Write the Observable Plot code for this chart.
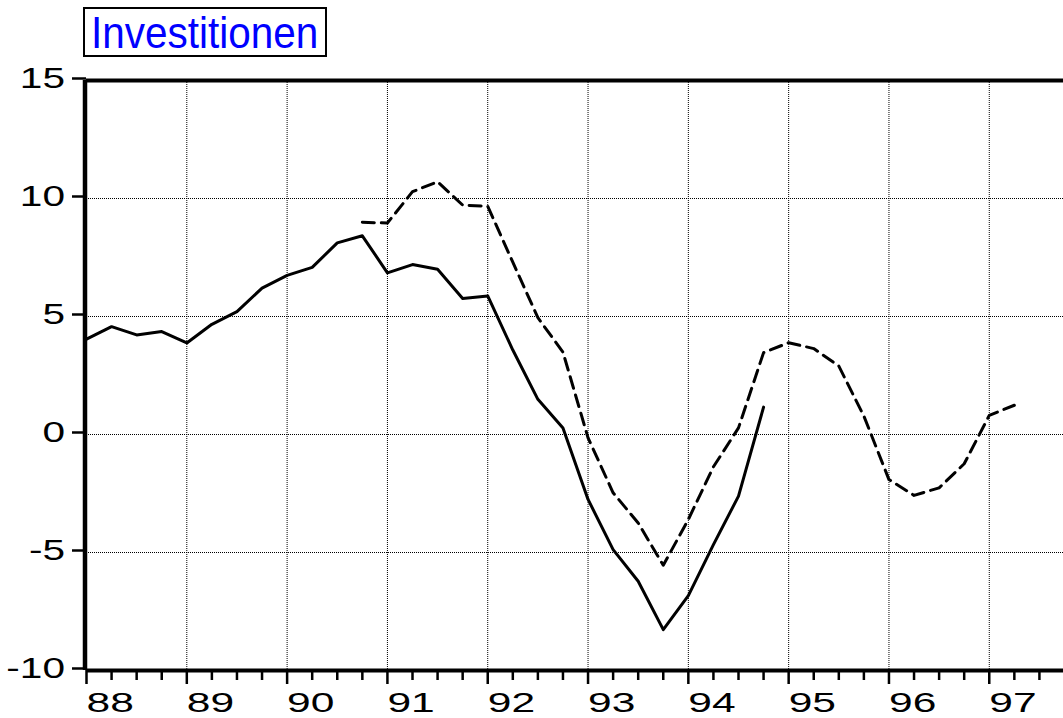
<!DOCTYPE html>
<html>
<head>
<meta charset="utf-8">
<script src="https://cdn.jsdelivr.net/npm/d3@7"></script>
<script src="https://cdn.jsdelivr.net/npm/@observablehq/plot@0.6"></script>
<style>
html, body { margin: 0; padding: 0; background: #fff; overflow: hidden; }
#title { position: relative; height: 60px; width: 1063px; }
#title .box { position: absolute; left: 83px; top: 7px; width: 244px; height: 50px; box-sizing: border-box; border: 2px solid #000; background: #fff; }
#title span { position: absolute; left: 5.5px; top: 2px; font-family: "Liberation Sans", Arial, sans-serif; font-size: 44px; line-height: 1; color: #0000ff; white-space: nowrap; transform: scaleX(0.92); transform-origin: 0 0; }
</style>
</head>
<body>
<div id="title"><div class="box"><span>Investitionen</span></div></div>
<div id="chart"></div>
<script>
// Quarterly dates (year + fraction), solid series
const solidQuarters = [88, 88.25, 88.5, 88.75, 89, 89.25, 89.5, 89.75, 90, 90.25, 90.5, 90.75,
  91, 91.25, 91.5, 91.75, 92, 92.25, 92.5, 92.75, 93, 93.25, 93.5, 93.75, 94, 94.25, 94.5, 94.75];
const solidValues = [4.04, 4.57, 4.22, 4.36, 3.88, 4.67, 5.21, 6.2, 6.74, 7.08, 8.12, 8.42,
  6.85, 7.2, 7.0, 5.76, 5.87, 3.58, 1.49, 0.28, -2.75, -4.88, -6.22, -8.27, -6.83, -4.67, -2.61, 1.16];

// Dashed series
const dashedQuarters = [90.75, 91, 91.25, 91.5, 91.75, 92, 92.25, 92.5, 92.75, 93, 93.25, 93.5, 93.75,
  94, 94.25, 94.5, 94.75, 95, 95.25, 95.5, 95.75, 96, 96.25, 96.5, 96.75, 97, 97.25];
const dashedValues = [8.99, 8.96, 10.29, 10.71, 9.72, 9.67, 7.3, 4.95, 3.49, -0.14, -2.47, -3.75, -5.54,
  -3.6, -1.37, 0.28, 3.47, 3.89, 3.64, 2.9, 0.78, -1.91, -2.58, -2.26, -1.24, 0.81, 1.24];

// Axis ticks
const yTicks = [-10, -5, 0, 5, 10, 15];
const yGrid = [-5, 0, 5, 10];
const yearTicks = [88, 89, 90, 91, 92, 93, 94, 95, 96, 97];
const gridYears = [89, 90, 91, 92, 93, 94, 95, 96, 97];
const minorQuarterTicks = [88.25, 88.5, 88.75, 89.25, 89.5, 89.75, 90.25, 90.5, 90.75,
  91.25, 91.5, 91.75, 92.25, 92.5, 92.75, 93.25, 93.5, 93.75, 94.25, 94.5, 94.75,
  95.25, 95.5, 95.75, 96.25, 96.5, 96.75, 97.25, 97.5];

const solid = solidQuarters.map((q, i) => ({q, v: solidValues[i]}));
const dashed = dashedQuarters.map((q, i) => ({q, v: dashedValues[i]}));

const gridStyle = {stroke: "#000", strokeOpacity: 1, strokeWidth: 1, strokeDasharray: "1,1"};

const chart = Plot.plot({
  width: 1063,
  height: 658,
  marginLeft: 86,
  marginRight: 0,
  marginTop: 20,
  marginBottom: 48,
  style: {fontFamily: "'Liberation Sans', Arial, sans-serif", background: "#fff", overflow: "visible", color: "#000"},
  x: {domain: [88, 97.74], label: null},
  y: {domain: [-10, 15], label: null},
  marks: [
    Plot.gridX(gridYears, gridStyle),
    Plot.gridY(yGrid, gridStyle),
    Plot.line(solid, {x: "q", y: "v", stroke: "#000", strokeWidth: 3}),
    Plot.line(dashed, {x: "q", y: "v", stroke: "#000", strokeWidth: 3, strokeDasharray: "12,7"}),
    Plot.axisY(yTicks, {tickSize: 14, tickPadding: 7.5, fontSize: 29, strokeWidth: 2.5, dy: -2, tickFormat: d => String(d)}),
    Plot.axisX(minorQuarterTicks, {tickSize: 10, strokeWidth: 2.5, tickFormat: () => ""}),
    Plot.axisX(yearTicks, {tickSize: 14, tickPadding: 8, fontSize: 28, strokeWidth: 2.5, textAnchor: "start", dx: 0,
      tickFormat: d => String(d)}),
    Plot.ruleX([88], {stroke: "#000", strokeWidth: 4.5, dx: -1.5}),
    Plot.ruleY([15, -10], {stroke: "#000", strokeWidth: 4})
  ]
});

// stretch tick labels horizontally as in the reference
chart.querySelectorAll('g[aria-label="y-axis tick label"] text, g[aria-label="x-axis tick label"] text').forEach(t => {
  const sx = t.closest('g[aria-label="x-axis tick label"]') ? 1.52 : 1.4;
  const x = parseFloat(t.getAttribute("x")) || 0;
  const tr = t.getAttribute("transform") || "";
  t.setAttribute("transform", `${tr} translate(${x},0) scale(${sx},1) translate(${-x},0)`);
});

document.getElementById("chart").appendChild(chart);
</script>
</body>
</html>
